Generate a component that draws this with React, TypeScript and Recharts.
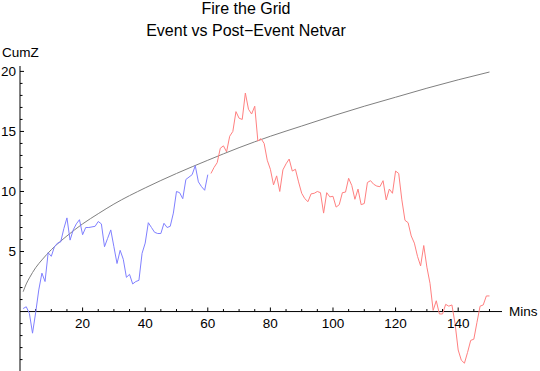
import React from "react";
import { LineChart, Line, XAxis, YAxis, ReferenceLine } from "recharts";

// ─── DATA ─────────────────────────────────────────────────────────────────────

const TITLE = "Fire the Grid";
const SUBTITLE = "Event vs Post\u2212Event Netvar";

// event period, one value per minute starting at minute 1
const EVENT_START = 1;
const eventValues = [
    0.25, 0.4, -0.15, -1.8, -0.1, 1.8, 3.2, 2.5, 4.9, 4.6,
    5.4, 5.7, 5.8, 6.9, 7.8, 5.95, 6.8, 7.3, 7.65, 6.4,
    7.0, 7.0, 7.05, 7.1, 7.5, 7.3, 5.4, 6.1, 6.8, 5.4,
    4.0, 5.1, 4.35, 2.85, 3.1, 2.3, 2.5, 2.6, 4.85, 5.7,
    7.4, 7.0, 6.6, 6.5, 6.5, 7.35, 7.0, 7.1, 8.2, 10.0,
    9.9, 9.4, 11.0, 11.2, 11.4, 12.15, 10.8, 10.4, 10.1, 11.4,
];

// post-event period, one value per minute starting at minute 61
const POST_START = 61;
const postValues = [
    11.5, 12.0, 12.4, 13.6, 13.8, 13.3, 14.6, 15.0, 16.65, 16.1,
    16.0, 18.2, 16.85, 16.45, 17.1, 14.2, 14.4, 14.0, 12.6, 11.85,
    10.55, 11.3, 10.0, 11.8, 12.3, 12.7, 11.7, 11.85, 10.8, 9.85,
    9.4, 9.15, 9.8, 9.85, 10.0, 9.9, 8.2, 9.9, 9.55, 9.6,
    8.7, 8.9, 9.9, 9.95, 11.1, 10.5, 9.35, 10.2, 8.9, 9.0,
    10.75, 10.9, 10.6, 10.45, 10.4, 10.9, 9.3, 10.2, 9.85, 11.7,
    11.5, 9.3, 7.6, 7.4, 6.3, 5.7, 4.6, 3.8, 5.5, 3.7,
    2.35, 0.1, 0.9, -0.2, -0.2, 0.6, 0.45, 0.55, -1.0, -3.2,
    -4.05, -4.3, -3.4, -2.4, -2.3, -0.9, 0.45, 0.55, 1.3, 1.3,
];

// reference curve
const curveMins = [1, 2, 3, 5, 7, 10, 15, 20, 25, 30, 40, 50, 60, 70, 80, 90, 100, 110, 120, 130, 140, 150];
const curveVals = [1.65, 2.3, 2.8, 3.65, 4.3, 5.15, 6.3, 7.3, 8.15, 8.95, 10.3, 11.5, 12.6, 13.65, 14.6, 15.45, 16.3, 17.1, 17.85, 18.6, 19.3, 19.95];

// axes
const xMajorTicks = [20, 40, 60, 80, 100, 120, 140];
const xMinorTicks = [5, 10, 15, 25, 30, 35, 45, 50, 55, 65, 70, 75, 85, 90, 95, 105, 110, 115, 125, 130, 135, 145, 150];
const yTicks = [-4, -3, -2, -1, 1, 2, 3, 4, 5, 6, 7, 8, 9, 10, 11, 12, 13, 14, 15, 16, 17, 18, 19, 20];
const yMajor = [5, 10, 15, 20];

const eventData = eventValues.map((v, i) => ({ m: EVENT_START + i, v }));
const postData = postValues.map((v, i) => ({ m: POST_START + i, v }));
const curveData = curveMins.map((m, i) => ({ m, v: curveVals[i] }));

const FONT = "'Liberation Sans', Arial, sans-serif";

// ─── Y TICK (marks point into the plot) ──────────────────────────────────────

function YTick({ x, y, payload }: any) {
    const v = payload.value;
    const major = yMajor.includes(v);
    return (
        <g>
            <line x1={x} x2={x + (major ? 4 : 2.5)} y1={y} y2={y} stroke="#000" />
            {major && (
                <text x={x - 4} y={y} textAnchor="end" dominantBaseline="central" fontSize={13.5} fill="#000">
                    {v}
                </text>
            )}
        </g>
    );
}

export default function App() {
    return (
        <div style={{ position: "absolute", left: 0, top: 0, width: 540, height: 371, background: "#fff" }}>
            <LineChart
                width={540}
                height={371}
                margin={{ top: 66, right: 38, bottom: 0, left: 0 }}
                style={{ fontFamily: FONT }}
            >
                <text x={246} y={14} textAnchor="middle" fontSize={16} fill="#000">{TITLE}</text>
                <text x={246} y={36} textAnchor="middle" fontSize={16} fill="#000">{SUBTITLE}</text>
                <text x={2} y={57} textAnchor="start" fontSize={13.5} fill="#000">CumZ</text>

                <XAxis type="number" dataKey="m" domain={[0, 154]} hide />
                <YAxis
                    type="number"
                    domain={[-4.95, 20.45]}
                    ticks={yTicks}
                    interval={0}
                    width={20}
                    tickSize={0}
                    tickMargin={0}
                    tickLine={false}
                    axisLine={{ stroke: "#000" }}
                    tick={(p: any) => <YTick {...p} />}
                />

                {/* x axis drawn at y = 0 */}
                <ReferenceLine
                    y={0}
                    stroke="#000"
                    label={{ value: "Mins", position: "right", offset: 7, fontSize: 13.5, fill: "#000" }}
                />
                {xMinorTicks.map((t) => (
                    <ReferenceLine key={"n" + t} segment={[{ x: t, y: 0 }, { x: t, y: 0.21 }]} stroke="#000" />
                ))}
                {xMajorTicks.map((t) => (
                    <ReferenceLine
                        key={"j" + t}
                        segment={[{ x: t, y: 0 }, { x: t, y: 0.34 }]}
                        stroke="#000"
                        label={{ value: String(t), position: "bottom", offset: 7, fontSize: 13.5, fill: "#000" }}
                    />
                ))}

                <Line data={curveData} dataKey="v" type="monotone" stroke="#808080" strokeWidth={1} dot={false} isAnimationActive={false} />
                <Line data={eventData} dataKey="v" type="linear" stroke="#8080ff" strokeWidth={1} dot={false} isAnimationActive={false} />
                <Line data={postData} dataKey="v" type="linear" stroke="#ff8080" strokeWidth={1} dot={false} isAnimationActive={false} />
            </LineChart>
        </div>
    );
}
